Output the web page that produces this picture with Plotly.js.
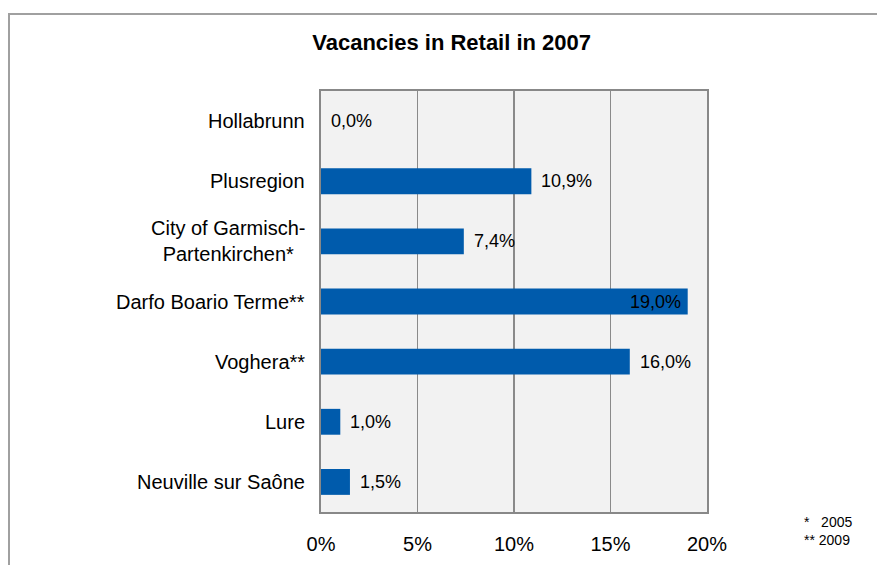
<!DOCTYPE html>
<html>
<head>
<meta charset="utf-8">
<script src="https://cdn.plot.ly/plotly-3.0.1.min.js"></script>
<style>
html,body{margin:0;padding:0;background:#fff;}
#wrap{position:relative;width:877px;height:565px;overflow:hidden;}
#chart{position:absolute;left:0;top:0;width:877px;height:565px;}
#frame{position:absolute;left:8px;top:13px;width:900px;height:600px;border-top:2px solid #a0a0a0;border-left:2px solid #a0a0a0;pointer-events:none;}
</style>
</head>
<body>
<div id="wrap"><div id="chart"></div><div id="frame"></div></div>
<script>
const categories = ['Hollabrunn','Plusregion','City of Garmisch-<br>Partenkirchen*','Darfo Boario Terme**','Voghera**','Lure','Neuville sur Saône'];
const values = [0.0, 10.9, 7.4, 19.0, 16.0, 1.0, 1.5];
const tickVals = [0, 5, 10, 15, 20];
const tickText = ['0%', '5%', '10%', '15%', '20%'];
const footnote = '*   2005<br>** 2009';
const title = 'Vacancies in Retail in 2007';

const fmt = v => v.toFixed(1).replace('.', ',') + '%';
const FONT = 'Liberation Sans, Arial, sans-serif';

const trace = {
  type: 'bar', orientation: 'h',
  x: values, y: categories,
  width: 0.43,
  marker: {color: '#005BAC', line: {width: 0}},
  hoverinfo: 'skip'
};

const annotations = [];
categories.forEach((c, i) => {
  annotations.push({
    x: 0, xref: 'paper', y: c, yref: 'y', xanchor: 'right', yanchor: 'middle',
    xshift: -14, text: c, align: 'center', showarrow: false,
    font: {family: FONT, size: 20, color: '#000'}
  });
  const inside = values[i] >= 18;
  annotations.push({
    x: values[i], xref: 'x', y: c, yref: 'y',
    xanchor: inside ? 'right' : 'left', yanchor: 'middle',
    xshift: inside ? -5 : 8, text: fmt(values[i]), showarrow: false,
    font: {family: FONT, size: 18, color: '#000'}
  });
});
annotations.push({
  x: 1.247, xref: 'paper', y: -0.044, yref: 'paper', xanchor: 'left', yanchor: 'middle',
  text: footnote, align: 'left', showarrow: false,
  font: {family: FONT, size: 14, color: '#000'}
});

const layout = {
  width: 877, height: 565,
  margin: {l: 321, r: 170, t: 91, b: 53, pad: 0},
  paper_bgcolor: '#fff', plot_bgcolor: '#f2f2f2',
  showlegend: false,
  title: {text: '<b>' + title + '</b>', x: 0.515, xref: 'container', xanchor: 'center',
          y: 0.925, yref: 'container', yanchor: 'middle',
          font: {family: FONT, size: 22, color: '#000'}},
  xaxis: {range: [0, 20], tickvals: tickVals, ticktext: tickText,
          showgrid: true, gridcolor: '#8a8a8a', gridwidth: 1.5,
          zeroline: false, showline: true, mirror: true, linecolor: '#888', linewidth: 2,
          ticks: 'outside', ticklen: 13, tickcolor: 'rgba(0,0,0,0)',
          tickfont: {family: FONT, size: 20, color: '#000'}, fixedrange: true},
  yaxis: {type: 'category', range: [6.5, -0.5], showticklabels: false, showgrid: false,
          zeroline: false, showline: true, mirror: true, linecolor: '#888', linewidth: 2,
          ticks: '', fixedrange: true},
  annotations: annotations
};

Plotly.newPlot('chart', [trace], layout, {displayModeBar: false, staticPlot: true});
</script>
</body>
</html>
